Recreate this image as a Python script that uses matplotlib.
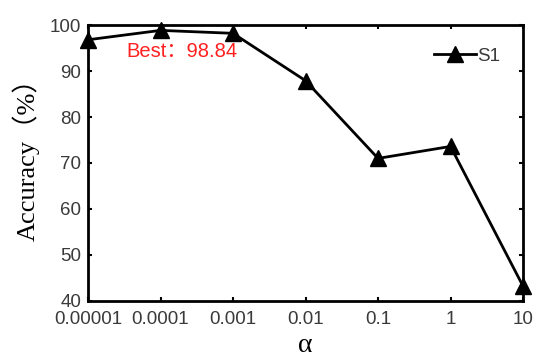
import matplotlib
matplotlib.use("Agg")
import matplotlib.pyplot as plt

alphas = ["0.00001", "0.0001", "0.001", "0.01", "0.1", "1", "10"]
accuracy = [96.8, 98.84, 98.2, 87.9, 71.0, 73.6, 43.2]
yticks = [40, 50, 60, 70, 80, 90, 100]

plt.rcParams['font.family'] = ['Liberation Sans', 'Noto Sans CJK SC', 'DejaVu Sans']

fig = plt.figure(figsize=(5.5, 3.63), dpi=100)
ax = fig.add_axes([0.16, 0.171, 0.791, 0.760])

x = list(range(len(alphas)))
ax.plot(x, accuracy, color='black', linewidth=2, marker='^', markersize=12,
        label='S1', clip_on=False, zorder=5)

ax.set_xlim(0, len(alphas) - 1)
ax.set_ylim(40, 100)
ax.set_xticks(x)
ax.set_xticklabels(alphas)
ax.set_yticks(yticks)
ax.tick_params(direction='in', length=3, width=1.5, labelsize=13.5,
               labelcolor='#3a3a3a', top=True, right=True)
ax.tick_params(axis='x', pad=7)
ax.tick_params(axis='y', pad=5)
for s in ax.spines.values():
    s.set_linewidth(2)

ax.set_ylabel('Accuracy（%）', family=['Liberation Serif', 'Noto Sans CJK SC'],
              fontsize=19)
ax.yaxis.set_label_coords(-0.112, 0.535)
ax.set_xlabel('α', family=['Liberation Serif', 'DejaVu Serif'], fontsize=20, labelpad=4)

ax.text(1.30, 94.2, 'Best：98.84', color='#ff2020', fontsize=14.5,
        ha='center', va='center', family=['Liberation Sans', 'Noto Sans CJK SC'],
        zorder=6)

leg = ax.legend(loc='upper right', frameon=False, fontsize=13.5,
                handlelength=2.2, handletextpad=0.1, borderaxespad=0.8)
for t in leg.get_texts():
    t.set_color('#3a3a3a')

fig.savefig('out.png', dpi=100)
